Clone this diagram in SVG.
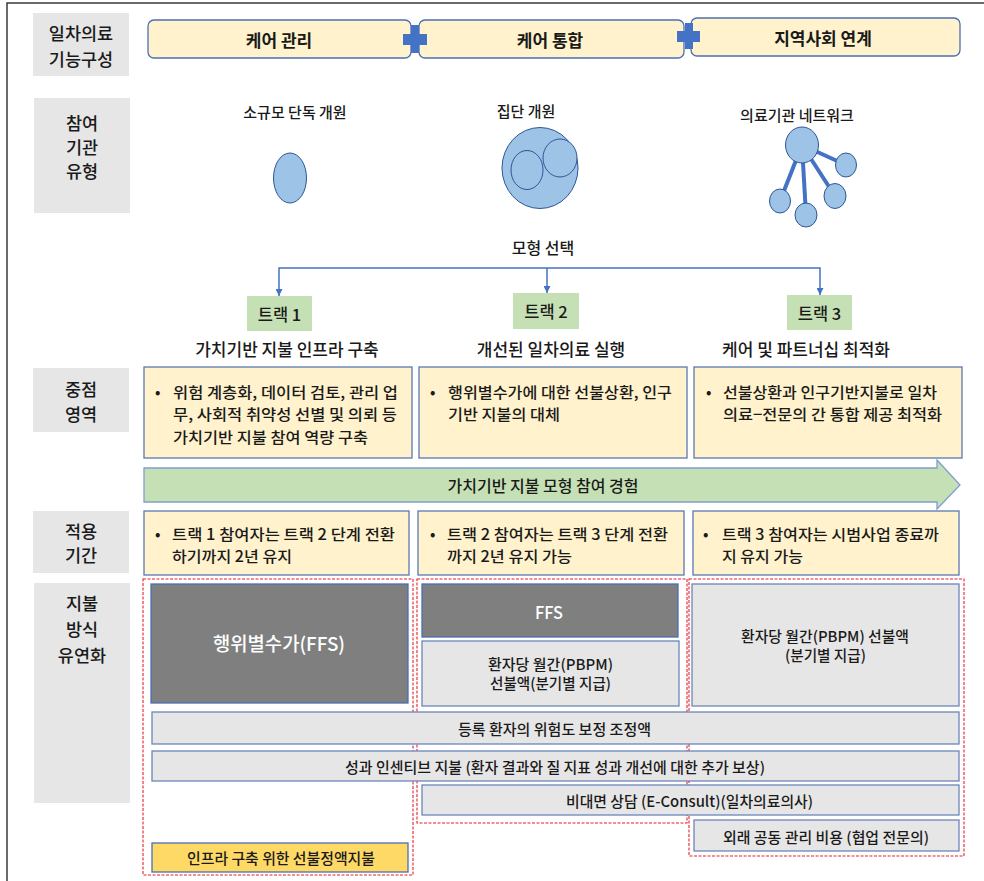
<svg xmlns="http://www.w3.org/2000/svg" width="984" height="881" viewBox="0 0 984 881">
<defs>
<style>
text{font-family:"Noto Sans CJK KR","Noto Sans",sans-serif;fill:#1a1a1a;dominant-baseline:central;font-weight:500}
.lab{fill:#E6E6E6}
.labt{font-size:17.5px;text-anchor:middle}
.care{fill:#FFF2CC;stroke:#4A6FB5;stroke-width:1.3}
.caret{font-size:17px;text-anchor:middle;font-weight:700}
.ybox{fill:#FFF2CC;stroke:#5A78B4;stroke-width:1.3}
.body{font-size:15.3px}
.trk{fill:#C5E0B4}
.trkt{font-size:16.5px;text-anchor:middle}
.sub{font-size:17px;text-anchor:middle}
.cap{font-size:15px;text-anchor:middle}
.dk{fill:#7F7F7F;stroke:#4A6FB5;stroke-width:1.3}
.lg{fill:#E7E6E6;stroke:#6A86BC;stroke-width:1.3}
.pt{font-size:15px;text-anchor:middle}
.wt{fill:#ffffff}
.red{fill:none;stroke:#E8212B;stroke-width:1.1;stroke-dasharray:3 1.5}
.blob{fill:#9DC3E6;stroke:#2F5597;stroke-width:1}
.conn{fill:none;stroke:#4472C4;stroke-width:1.5}
.plus{fill:#4472C4}
</style>
<marker id="ah" viewBox="0 0 10 10" refX="10" refY="5" markerWidth="7" markerHeight="7" markerUnits="userSpaceOnUse" orient="auto">
<path d="M0,0 L10,5 L0,10 z" fill="#4472C4"/>
</marker>
</defs>
<rect width="984" height="881" fill="#ffffff"/>
<path d="M7,881 V3 H984" fill="none" stroke="#3a3a3a" stroke-width="1.5"/>

<!-- row labels -->
<g id="label-function">
<rect class="lab" x="33" y="13" width="96" height="63"/>
<text class="labt" x="81" y="32">일차의료</text>
<text class="labt" x="81" y="58">기능구성</text>
</g>
<g id="label-type">
<rect class="lab" x="34" y="98" width="96" height="115"/>
<text class="labt" x="82" y="122">참여</text>
<text class="labt" x="82" y="146">기관</text>
<text class="labt" x="82" y="170">유형</text>
</g>
<g id="label-focus">
<rect class="lab" x="33" y="368" width="96" height="64"/>
<text class="labt" x="81" y="388">중점</text>
<text class="labt" x="81" y="413">영역</text>
</g>
<g id="label-period">
<rect class="lab" x="33" y="511" width="96" height="62"/>
<text class="labt" x="81" y="530">적용</text>
<text class="labt" x="81" y="554">기간</text>
</g>
<g id="label-payment">
<rect class="lab" x="34" y="583" width="96" height="220"/>
<text class="labt" x="82" y="602">지불</text>
<text class="labt" x="82" y="628">방식</text>
<text class="labt" x="82" y="654">유연화</text>
</g>

<!-- care headers -->
<g id="care-mgmt">
<rect class="care" x="148" y="20" width="263" height="38" rx="6"/>
<text class="caret" x="279" y="39">케어 관리</text>
</g>
<g id="care-integ">
<rect class="care" x="419" y="20" width="265" height="38" rx="6"/>
<text class="caret" x="550" y="39">케어 통합</text>
</g>
<g id="care-comm">
<rect class="care" x="691" y="18" width="269" height="38" rx="6"/>
<text class="caret" x="823" y="37">지역사회 연계</text>
</g>
<g id="plus-1">
<path class="plus" d="M411,25 H419 V34 H427 V45 H419 V53 H411 V45 H403 V34 H411 Z"/>
</g>
<g id="plus-2">
<path class="plus" d="M685,23 H693 V31 H700 V42 H693 V49 H685 V42 H677 V31 H685 Z"/>
</g>

<!-- participant types -->
<g id="type-solo">
<text class="cap" x="295" y="111">소규모 단독 개원</text>
<ellipse class="blob" cx="290" cy="178" rx="16.5" ry="25"/>
</g>
<g id="type-group">
<text class="cap" x="526" y="110">집단 개원</text>
<ellipse class="blob" cx="540" cy="168" rx="38" ry="40.5"/>
<ellipse class="blob" cx="527" cy="170" rx="16" ry="19.5"/>
<ellipse class="blob" cx="560" cy="158" rx="17" ry="19"/>
</g>
<g id="type-network">
<text class="cap" x="797" y="114">의료기관 네트워크</text>
<g stroke="#4472C4" stroke-width="4" stroke-linecap="butt">
<line x1="802" y1="145" x2="846" y2="165"/>
<line x1="802" y1="145" x2="780" y2="201"/>
<line x1="802" y1="145" x2="806" y2="215"/>
<line x1="802" y1="145" x2="835" y2="196"/>
</g>
<ellipse class="blob" cx="802" cy="145" rx="16.5" ry="18"/>
<ellipse class="blob" cx="846" cy="165" rx="10.5" ry="12"/>
<ellipse class="blob" cx="780" cy="201" rx="10.5" ry="12"/>
<ellipse class="blob" cx="806" cy="215" rx="11" ry="12"/>
<ellipse class="blob" cx="835" cy="196" rx="11" ry="12.5"/>
</g>

<!-- model selection -->
<g id="model-select">
<text class="cap" x="543" y="247" style="font-size:16px">모형 선택</text>
</g>
<g id="connectors">
<path class="conn" d="M547,268 H279 V296" marker-end="url(#ah)"/>
<path class="conn" d="M547,268 H820 V295" marker-end="url(#ah)"/>
<path class="conn" d="M547,268 V293" marker-end="url(#ah)"/>
</g>

<!-- tracks -->
<g id="track-1">
<rect class="trk" x="247" y="296" width="65" height="35"/>
<text class="trkt" x="279.5" y="313.5">트랙 1</text>
<text class="sub" x="287" y="348">가치기반 지불 인프라 구축</text>
</g>
<g id="track-2">
<rect class="trk" x="513" y="293" width="66" height="36"/>
<text class="trkt" x="546" y="311">트랙 2</text>
<text class="sub" x="551" y="348">개선된 일차의료 실행</text>
</g>
<g id="track-3">
<rect class="trk" x="787" y="295" width="65" height="35"/>
<text class="trkt" x="819.5" y="312.5">트랙 3</text>
<text class="sub" x="806" y="348">케어 및 파트너십 최적화</text>
</g>

<!-- focus areas -->
<g id="focus-1">
<rect class="ybox" x="144" y="367" width="268" height="91"/>
<text class="body" x="155" y="391">•</text>
<text class="body" x="173" y="391" textLength="225" lengthAdjust="spacingAndGlyphs">위험 계층화, 데이터 검토, 관리 업</text>
<text class="body" x="173" y="413" textLength="224" lengthAdjust="spacingAndGlyphs">무, 사회적 취약성 선별 및 의뢰 등</text>
<text class="body" x="173" y="436" textLength="195" lengthAdjust="spacingAndGlyphs">가치기반 지불 참여 역량 구축</text>
</g>
<g id="focus-2">
<rect class="ybox" x="419" y="367" width="268" height="91"/>
<text class="body" x="430" y="391">•</text>
<text class="body" x="448" y="391" textLength="224" lengthAdjust="spacingAndGlyphs">행위별수가에 대한 선불상환, 인구</text>
<text class="body" x="448" y="413" textLength="112" lengthAdjust="spacingAndGlyphs">기반 지불의 대체</text>
</g>
<g id="focus-3">
<rect class="ybox" x="694" y="367" width="268" height="91"/>
<text class="body" x="706" y="391">•</text>
<text class="body" x="723" y="391" textLength="214" lengthAdjust="spacingAndGlyphs">선불상환과 인구기반지불로 일차</text>
<text class="body" x="723" y="413" textLength="219" lengthAdjust="spacingAndGlyphs">의료−전문의 간 통합 제공 최적화</text>
</g>

<!-- experience arrow -->
<g id="experience-arrow">
<path d="M144,468 H937 V460 L960,485 L937,509 V502 H144 Z" fill="#C5E0B4" stroke="#7F9FD0" stroke-width="1.3"/>
<text x="543" y="485" style="font-size:16px;text-anchor:middle">가치기반 지불 모형 참여 경험</text>
</g>

<!-- application periods -->
<g id="period-1">
<rect class="ybox" x="144" y="511" width="265" height="64"/>
<text class="body" x="155" y="533">•</text>
<text class="body" x="172" y="533" textLength="223" lengthAdjust="spacingAndGlyphs">트랙 1 참여자는 트랙 2 단계 전환</text>
<text class="body" x="172" y="555" textLength="120" lengthAdjust="spacingAndGlyphs">하기까지 2년 유지</text>
</g>
<g id="period-2">
<rect class="ybox" x="418" y="511" width="266" height="64"/>
<text class="body" x="430" y="533">•</text>
<text class="body" x="447" y="533" textLength="221" lengthAdjust="spacingAndGlyphs">트랙 2 참여자는 트랙 3 단계 전환</text>
<text class="body" x="447" y="555" textLength="125" lengthAdjust="spacingAndGlyphs">까지 2년 유지 가능</text>
</g>
<g id="period-3">
<rect class="ybox" x="693" y="511" width="266" height="64"/>
<text class="body" x="703" y="533">•</text>
<text class="body" x="722" y="533" textLength="217" lengthAdjust="spacingAndGlyphs">트랙 3 참여자는 시범사업 종료까</text>
<text class="body" x="722" y="555" textLength="81" lengthAdjust="spacingAndGlyphs">지 유지 가능</text>
</g>

<!-- payment flexibility -->
<g id="track-groups">
<rect class="red" x="143" y="579" width="270" height="296"/>
<rect class="red" x="417" y="579" width="270" height="244"/>
<rect class="red" x="689" y="579" width="275" height="277"/>
</g>
<g id="pay-ffs-1">
<rect class="dk" x="151" y="584" width="257" height="119"/>
<text class="wt" x="279" y="642" style="font-size:19px;text-anchor:middle" textLength="132" lengthAdjust="spacingAndGlyphs">행위별수가(FFS)</text>
</g>
<g id="pay-ffs-2">
<rect class="dk" x="422" y="584" width="256" height="53"/>
<text class="wt" x="549" y="611" style="font-size:17px;text-anchor:middle" textLength="28" lengthAdjust="spacingAndGlyphs">FFS</text>
</g>
<g id="pay-pbpm-2">
<rect class="lg" x="422" y="641" width="257" height="65"/>
<text class="pt" x="550.5" y="663" textLength="125" lengthAdjust="spacingAndGlyphs">환자당 월간(PBPM)</text>
<text class="pt" x="550.5" y="682" textLength="121" lengthAdjust="spacingAndGlyphs">선불액(분기별 지급)</text>
</g>
<g id="pay-pbpm-3">
<rect class="lg" x="692" y="584" width="267" height="122"/>
<text class="pt" x="825" y="635" textLength="168" lengthAdjust="spacingAndGlyphs">환자당 월간(PBPM) 선불액</text>
<text class="pt" x="825.5" y="654" textLength="81" lengthAdjust="spacingAndGlyphs">(분기별 지급)</text>
</g>
<g id="pay-risk">
<rect class="lg" x="152" y="712" width="807" height="32"/>
<text class="pt" x="554.5" y="728" textLength="193" lengthAdjust="spacingAndGlyphs">등록 환자의 위험도 보정 조정액</text>
</g>
<g id="pay-perf">
<rect class="lg" x="152" y="751" width="807" height="30"/>
<text class="pt" x="555" y="766" textLength="420" lengthAdjust="spacingAndGlyphs">성과 인센티브 지불 (환자 결과와 질 지표 성과 개선에 대한 추가 보상)</text>
</g>
<g id="pay-econsult">
<rect class="lg" x="422" y="785" width="537" height="30"/>
<text class="pt" x="689.5" y="800" textLength="247" lengthAdjust="spacingAndGlyphs">비대면 상담 (E-Consult)(일차의료의사)</text>
</g>
<g id="pay-comanage">
<rect class="lg" x="694" y="820" width="265" height="31"/>
<text class="pt" x="826" y="836" textLength="206" lengthAdjust="spacingAndGlyphs">외래 공동 관리 비용 (협업 전문의)</text>
</g>
<g id="pay-infra">
<rect x="152" y="843" width="256" height="29" fill="#FFD966" stroke="#4A6FB5" stroke-width="1.3"/>
<text class="pt" x="281" y="857.5" textLength="188" lengthAdjust="spacingAndGlyphs">인프라 구축 위한 선불정액지불</text>
</g>
</svg>
